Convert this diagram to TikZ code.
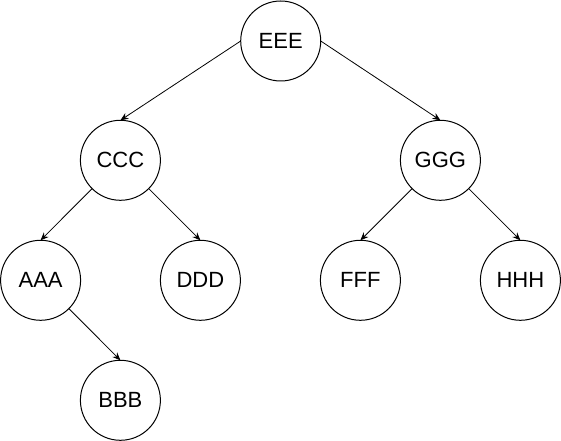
\documentclass[tikz,border=0pt]{standalone}
\usepackage{fontspec}
\setmainfont{Liberation Sans}
\usetikzlibrary{arrows.meta}
\begin{document}
\begin{tikzpicture}[x=0.75pt,y=-0.75pt,
  tnode/.style={circle,draw,line width=0.75pt,minimum size=60pt,inner sep=0pt,outer sep=0pt,font=\fontsize{16.5pt}{18pt}\selectfont},
  conn/.style={line width=0.6pt,-{Stealth[length=6pt,width=5pt,inset=2pt]}}]
\useasboundingbox (0,0) rectangle (561,441);
\node[tnode] (E) at (280.7,41) {EEE};
\node[tnode] (C) at (120.4,160.3) {CCC};
\node[tnode] (G) at (440.4,160.3) {GGG};
\node[tnode] (A) at (40.6,280.3) {AAA};
\node[tnode] (D) at (200.4,280.3) {DDD};
\node[tnode] (F) at (360.4,280.3) {FFF};
\node[tnode] (H) at (520.4,280.3) {HHH};
\node[tnode] (B) at (120.4,400.3) {BBB};
\draw[conn] (E.west) -- (C.north);
\draw[conn] (E.east) -- (G.north);
\draw[conn] (C.south west) -- (A.north);
\draw[conn] (C.south east) -- (D.north);
\draw[conn] (G.south west) -- (F.north);
\draw[conn] (G.south east) -- (H.north);
\draw[conn] (A.south east) -- (B.north);
\end{tikzpicture}
\end{document}
